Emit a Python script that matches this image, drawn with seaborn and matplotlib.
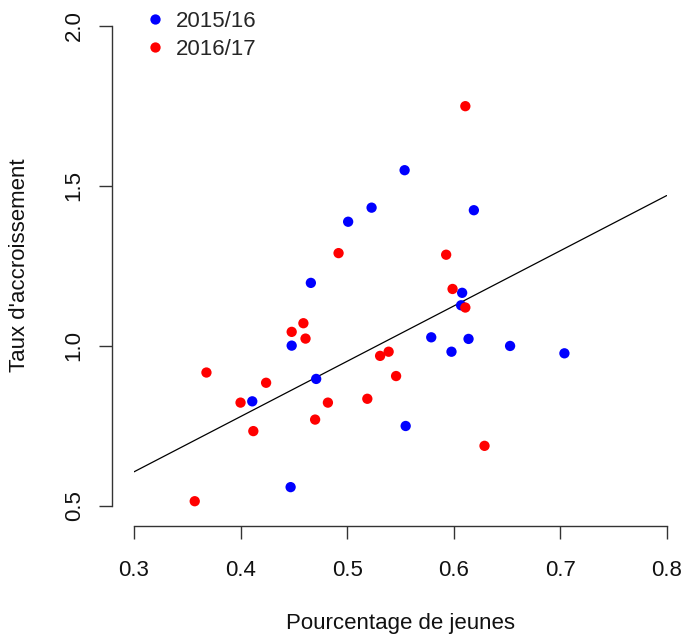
import numpy as np
import pandas as pd
import seaborn as sns
import matplotlib
matplotlib.use("Agg")
import matplotlib.pyplot as plt

# data
x_1516 = [0.554, 0.523, 0.619, 0.501, 0.466, 0.608, 0.607, 0.579, 0.614, 0.598,
          0.448, 0.471, 0.411, 0.555, 0.447, 0.653, 0.704]
y_1516 = [1.548, 1.431, 1.423, 1.387, 1.196, 1.165, 1.126, 1.026, 1.021, 0.981,
          1.000, 0.896, 0.826, 0.749, 0.558, 0.999, 0.976]
x_1617 = [0.611, 0.492, 0.593, 0.599, 0.611, 0.459, 0.448, 0.461, 0.531, 0.539,
          0.368, 0.424, 0.546, 0.400, 0.482, 0.519, 0.470, 0.412, 0.629, 0.357]
y_1617 = [1.748, 1.289, 1.284, 1.177, 1.119, 1.070, 1.043, 1.022, 0.968, 0.981,
          0.916, 0.884, 0.905, 0.822, 0.822, 0.834, 0.769, 0.733, 0.687, 0.514]
seasons = ['2015/16', '2016/17']
xticks = [0.3, 0.4, 0.5, 0.6, 0.7, 0.8]
yticks = [0.5, 1.0, 1.5, 2.0]
# trend line as drawn in the reference
line_intercept = 0.088
line_slope = 1.726

df = pd.DataFrame({
    'jeunes': x_1516 + x_1617,
    'taux': y_1516 + y_1617,
    'saison': [seasons[0]] * len(x_1516) + [seasons[1]] * len(x_1617),
})

sns.set_style('white')
plt.rcParams['font.family'] = ['Liberation Sans', 'DejaVu Sans']

fig = plt.figure(figsize=(6.82, 6.4), dpi=100)
ax = fig.add_axes([134/682, 1 - 505.7/640, (666.7-134)/682, (505.7-25.5)/640])

sns.scatterplot(data=df, x='jeunes', y='taux', hue='saison',
                palette={'2015/16': '#0000ff', '2016/17': '#ff0000'},
                s=55, linewidth=0, ax=ax, clip_on=False, zorder=3)

ax.axline((0, line_intercept), slope=line_slope, color='black', lw=0.9, zorder=2)

ax.set_xlim(0.3, 0.8)
ax.set_ylim(0.5, 2.0)
ax.set_xticks(xticks)
ax.set_yticks(yticks)
ax.set_xticklabels([f'{t:.1f}' for t in xticks])
ax.set_yticklabels([f'{t:.1f}' for t in yticks])

for side in ['top', 'right']:
    ax.spines[side].set_visible(False)
ax.spines['left'].set_position(('outward', 15.6))
ax.spines['bottom'].set_position(('outward', 14.4))
ax.spines['left'].set_bounds(0.5, 2.0)
ax.spines['bottom'].set_bounds(0.3, 0.8)
for side in ['left', 'bottom']:
    ax.spines[side].set_color('#333333')
    ax.spines[side].set_linewidth(1.0)

ax.tick_params(axis='both', length=9.4, width=1.0, color='#333333',
               labelsize=16, labelcolor='#111111', direction='out',
               left=True, bottom=True)
ax.tick_params(axis='x', pad=15)
ax.tick_params(axis='y', pad=10.5)
plt.setp(ax.get_yticklabels(), rotation=90, va='center')

ax.set_xlabel('Pourcentage de jeunes', fontsize=16, color='#111111')
ax.set_ylabel("Taux d'accroissement", fontsize=16, color='#111111')
ax.xaxis.set_label_coords(0.5, -0.223)
ax.yaxis.set_label_coords(-0.195, 0.5)

sns.move_legend(ax, 'upper left', bbox_to_anchor=(144/682, 1 - 11/640),
                bbox_transform=fig.transFigure, title=None, frameon=False,
                fontsize=16, handlelength=1.0, handletextpad=0.45,
                labelspacing=0.3, borderpad=0, borderaxespad=0)

fig.savefig('out.png', dpi=100, facecolor='white')
